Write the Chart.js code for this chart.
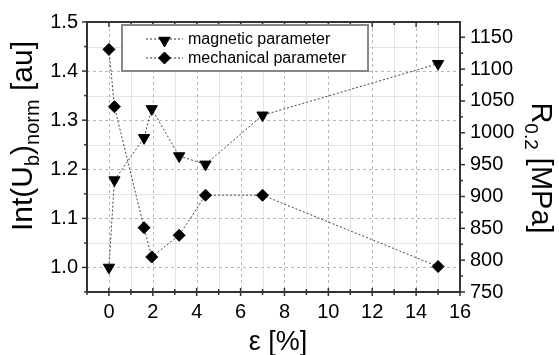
<!DOCTYPE html>
<html><head><meta charset="utf-8">
<script src="https://cdn.jsdelivr.net/npm/chart.js@4.4.1/dist/chart.umd.min.js"></script>
<style>html,body{margin:0;padding:0;background:#fff}canvas{display:block}</style>
</head><body>
<canvas id="c" width="559" height="355"></canvas>
<script>
// ---- data ----
const strain = [0, 0.25, 1.6, 1.95, 3.2, 4.4, 7, 15];
const magnetic = [1.0, 1.178, 1.264, 1.323, 1.227, 1.21, 1.31, 1.415];
const mechanical = [1131, 1041, 851, 805, 839, 902, 902, 790];
const seriesNames = ['magnetic parameter', 'mechanical parameter'];
const xTicks = [0, 2, 4, 6, 8, 10, 12, 14, 16];
const xMinor = [-1, 1, 3, 5, 7, 9, 11, 13, 15];
const leftTicks = [1.0, 1.1, 1.2, 1.3, 1.4, 1.5];
const leftMinor = [0.95, 1.05, 1.15, 1.25, 1.35, 1.45];
const rightTicks = [750, 800, 850, 900, 950, 1000, 1050, 1100, 1150];
const rightMinor = [775, 825, 875, 925, 975, 1025, 1075, 1125];
const xTitle = 'ε [%]';
const leftTitle = [['Int(U', 0], ['b', 1], [')', 0], ['norm', 1], [' [au]', 0]];
const rightTitle = [['R', 0], ['0.2', 1], [' [MPa]', 0]];

const FONT = '"Liberation Sans", Arial, sans-serif';

function pts(xs, ys) { return xs.map((v, i) => ({x: v, y: ys[i]})); }

function drawRich(ctx, parts, size, subSize, subShift) {
  let w = 0;
  const m = parts.map(([t, s]) => { ctx.font = (s ? subSize : size) + 'px ' + FONT; const pw = ctx.measureText(t).width; w += pw; return pw; });
  let cx = -w / 2;
  parts.forEach(([t, s], i) => { ctx.font = (s ? subSize : size) + 'px ' + FONT; ctx.fillText(t, cx, s ? subShift : 0); cx += m[i]; });
}

const deco = {
  id: 'deco',
  beforeDatasetsDraw(chart) {
    const {ctx, chartArea: a, scales: {x, y}} = chart;
    ctx.save();
    ctx.lineWidth = 1;
    const hl = (v) => { const p = Math.round(y.getPixelForValue(v)) + 0.5; ctx.beginPath(); ctx.moveTo(a.left, p); ctx.lineTo(a.right, p); ctx.stroke(); };
    const vl = (v) => { const p = Math.round(x.getPixelForValue(v)) + 0.5; ctx.beginPath(); ctx.moveTo(p, a.top); ctx.lineTo(p, a.bottom); ctx.stroke(); };
    ctx.strokeStyle = '#e4e4e4'; ctx.setLineDash([]);
    xMinor.forEach(vl); leftMinor.forEach(hl);
    ctx.strokeStyle = '#b8b8b8'; ctx.setLineDash([3, 3]);
    xTicks.forEach(vl); leftTicks.forEach(hl);
    ctx.restore();
  },
  afterDatasetsDraw(chart) {
    const {ctx, chartArea: a, scales: {x, y, y2}} = chart;
    ctx.save();
    ctx.setLineDash([]);
    ctx.strokeStyle = '#333';
    ctx.lineWidth = 1.5;
    const seg = (x1, y1, x2, y2_) => { ctx.beginPath(); ctx.moveTo(x1, y1); ctx.lineTo(x2, y2_); ctx.stroke(); };
    // ticks
    xTicks.forEach(v => { const p = x.getPixelForValue(v); seg(p, a.bottom - 4, p, a.bottom + 4); seg(p, a.top, p, a.top + 5); });
    xMinor.forEach(v => { const p = x.getPixelForValue(v); seg(p, a.bottom - 3, p, a.bottom + 3); seg(p, a.top, p, a.top + 3); });
    leftTicks.forEach(v => { const p = y.getPixelForValue(v); seg(a.left - 5, p, a.left, p); });
    leftMinor.forEach(v => { const p = y.getPixelForValue(v); seg(a.left - 3, p, a.left, p); });
    rightTicks.forEach(v => { const p = y2.getPixelForValue(v); seg(a.right, p, a.right + 5, p); });
    rightMinor.forEach(v => { const p = y2.getPixelForValue(v); seg(a.right, p, a.right + 3, p); });
    // frame
    ctx.lineWidth = 2;
    ctx.strokeStyle = '#333';
    ctx.strokeRect(a.left, a.top, a.right - a.left, a.bottom - a.top);
    ctx.restore();
  },
  afterDraw(chart) {
    const {ctx, chartArea: a} = chart;
    ctx.save();
    // legend
    const lx = 122, ly = 25, lw = 246, lh = 46;
    ctx.fillStyle = '#fff';
    ctx.fillRect(lx, ly, lw, lh);
    ctx.strokeStyle = '#888'; ctx.lineWidth = 2;
    ctx.strokeRect(lx, ly, lw, lh);
    chart.data.datasets.forEach((ds, i) => {
      const yy = ly + 14 + i * 19;
      ctx.strokeStyle = '#333'; ctx.lineWidth = 1; ctx.setLineDash([2, 2]);
      ctx.beginPath(); ctx.moveTo(146, yy); ctx.lineTo(183, yy); ctx.stroke();
      ctx.setLineDash([]);
      ctx.fillStyle = '#000'; ctx.strokeStyle = '#000';
      Chart.helpers.drawPoint(ctx, {pointStyle: ds.pointStyle, radius: ds.pointRadius, rotation: ds.pointRotation, borderWidth: 1}, 164.5, yy + (i === 0 ? 1.5 : 0));
      ctx.fillStyle = '#000';
      ctx.font = '16px ' + FONT;
      ctx.textBaseline = 'middle';
      ctx.textAlign = 'left';
      ctx.fillText(ds.label, 188, yy + 1);
    });
    // titles
    ctx.fillStyle = '#000';
    ctx.textBaseline = 'alphabetic';
    ctx.textAlign = 'left';
    ctx.save();
    ctx.translate(32, 136); ctx.rotate(-Math.PI / 2);
    drawRich(ctx, leftTitle, 30, 20, 7);
    ctx.restore();
    ctx.save();
    ctx.translate(532, 168); ctx.rotate(Math.PI / 2);
    drawRich(ctx, rightTitle, 29, 19, 7);
    ctx.restore();
    ctx.font = '27px ' + FONT;
    ctx.textAlign = 'center';
    ctx.fillText(xTitle, 278, 350);
    ctx.restore();
  }
};

new Chart(document.getElementById('c'), {
  type: 'scatter',
  data: {
    datasets: [
      {
        label: seriesNames[0], data: pts(strain, magnetic), yAxisID: 'y', showLine: true,
        borderColor: '#444', borderWidth: 1, borderDash: [2, 2],
        pointStyle: 'triangle', pointRotation: 180, pointRadius: 6.5, pointHoverRadius: 6.5,
        pointBackgroundColor: '#000', pointBorderColor: '#000'
      },
      {
        label: seriesNames[1], data: pts(strain, mechanical), yAxisID: 'y2', showLine: true,
        borderColor: '#444', borderWidth: 1, borderDash: [2, 2],
        pointStyle: 'rectRot', pointRadius: 6, pointHoverRadius: 6,
        pointBackgroundColor: '#000', pointBorderColor: '#000'
      }
    ]
  },
  options: {
    responsive: false, animation: false, devicePixelRatio: 1,
    layout: {padding: {top: 17, left: 0, right: 0, bottom: 0}},
    plugins: {legend: {display: false}, tooltip: {enabled: false}},
    scales: {
      x: {
        type: 'linear', min: -1, max: 16,
        grid: {display: false, drawTicks: false}, border: {display: false},
        afterBuildTicks: s => { s.ticks = xTicks.map(v => ({value: v})); },
        afterFit: s => { s.height = 63; },
        ticks: {color: '#000', font: {family: FONT, size: 20}, padding: 8, maxRotation: 0, autoSkip: false}
      },
      y: {
        type: 'linear', position: 'left', min: 0.95, max: 1.5,
        grid: {display: false, drawTicks: false}, border: {display: false},
        afterBuildTicks: s => { s.ticks = leftTicks.map(v => ({value: v})); },
        afterFit: s => { s.width = 87; },
        ticks: {color: '#000', font: {family: FONT, size: 20}, padding: 9, callback: v => v.toFixed(1)}
      },
      y2: {
        type: 'linear', position: 'right', min: 750, max: 1174,
        grid: {display: false, drawTicks: false}, border: {display: false},
        afterBuildTicks: s => { s.ticks = rightTicks.map(v => ({value: v})); },
        afterFit: s => { s.width = 99; },
        ticks: {color: '#000', font: {family: FONT, size: 20}, padding: 10, callback: v => String(v)}
      }
    }
  },
  plugins: [deco]
});
</script>
</body></html>
